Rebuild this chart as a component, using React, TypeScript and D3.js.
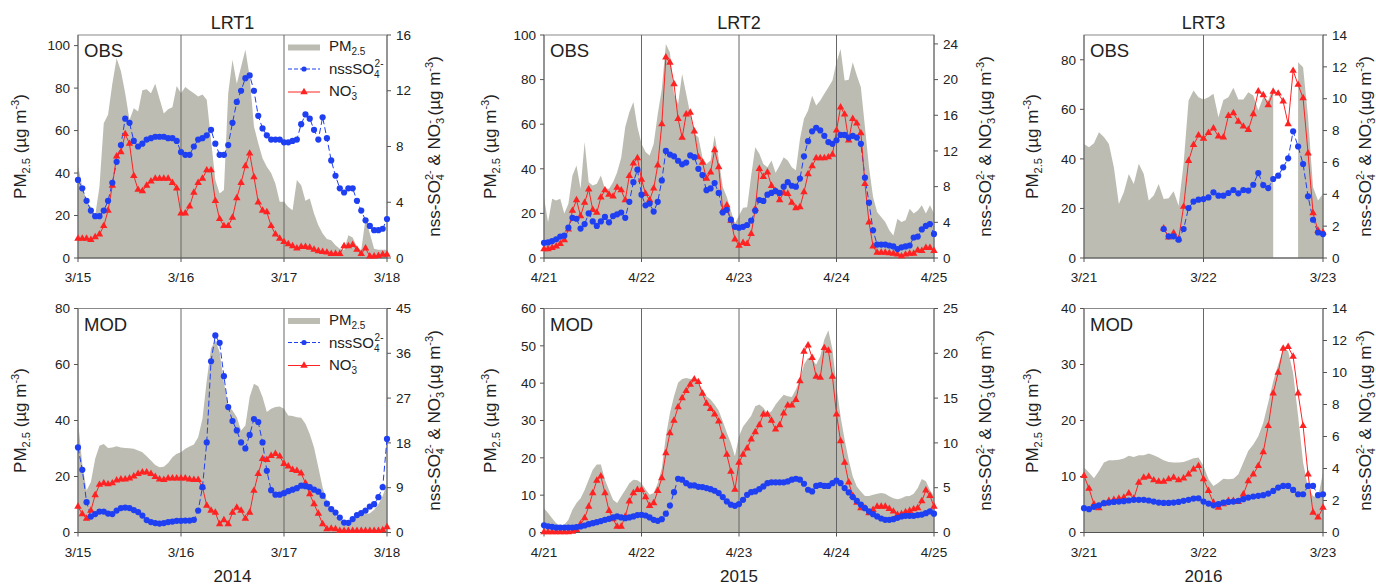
import React from "react";
import * as d3 from "d3";

// ---------------- DATA (hourly) ----------------
// LRT1 (2014, 3/15 - 3/18)
const lrt1Days = ["3/15", "3/16", "3/17", "3/18"];
const lrt1ObsPM = [43.5,33.5,27,24,20,33.5,63.5,67.4,82,94,88,77.6,65,70.5,69,79,79.5,77.6,82,75,68,70,71,81,77.6,80.5,79,77.6,76,77,74.5,55.6,36.7,30.4,32,77.6,93.4,82,90,98,85.5,62,54,47,43,40,35,26.5,26.5,24,22.5,36.7,34.3,27,28,21,15.4,11.5,9,8.3,6,4.4,3.6,10.7,9.6,5.2,3.6,18.6,11.5,4.4,3.9,3.9,3.9];
const lrt1ObsSO4 = [5.6,5.0,4.1,3.4,3.0,3.0,3.4,4.1,5.4,6.9,8.1,10.0,9.7,8.4,8.0,8.2,8.5,8.6,8.7,8.7,8.7,8.6,8.6,8.4,7.6,7.4,7.4,8.0,8.5,8.6,8.8,9.2,8.2,7.4,7.4,8.1,9.7,11.2,12.0,12.9,13.1,12.0,10.2,9.3,8.8,8.5,8.5,8.5,8.3,8.3,8.4,8.5,9.6,10.3,10.0,9.2,8.5,10.1,8.6,7.0,5.9,5.0,4.7,5.0,5.0,4.1,3.4,2.7,2.3,2.0,2.0,2.1,2.8];
const lrt1ObsNO3 = [1.4,1.4,1.4,1.3,1.5,1.7,2.3,3.4,5.2,7.3,7.6,8.9,8.2,5.9,4.9,4.8,5.2,5.5,5.7,5.7,5.7,5.7,5.4,5.0,3.2,3.2,3.7,4.7,5.4,5.7,6.3,6.3,4.1,2.8,2.3,2.3,2.9,4.3,5.4,6.6,7.5,5.8,4.0,3.4,3.3,2.3,1.7,1.4,1.15,1.0,0.85,0.7,0.8,0.8,0.75,0.6,0.5,0.45,0.4,0.3,0.3,0.3,0.85,0.85,0.95,0.6,0.3,0.7,0.12,0.12,0.15,0.25,0.25];
const lrt1ModPM = [40,24.5,15,18,26.3,31,31.6,30.2,30.4,30.8,30.4,30.2,30.1,29.9,29.3,28.7,27.2,25.7,24.1,23.3,23.5,24.8,26.9,28.1,28.7,29.9,30.7,31.4,34,40.6,54.3,65.7,68.7,64.5,53.7,45.4,43.6,41.2,36.4,38.2,48.4,53.1,52.2,48.4,43,44.2,44.8,45,44.2,41.8,41.6,41.2,41,38.8,35.2,30.4,23.3,16.1,11.3,7.8,6,4.4,3.9,4.2,5,5.6,6.2,6.6,6.9,8.1,10.1,13.1,17.3];
const lrt1ModSO4 = [17.1,12.6,6.1,3.2,3.7,4.2,4.2,3.8,3.7,4.4,4.9,5.0,4.9,4.5,4.1,3.4,2.5,2.1,1.9,1.8,1.9,2.1,2.2,2.35,2.35,2.4,2.4,2.55,4.4,9.1,18.1,34.4,39.6,38.1,31.4,25.2,22.4,20.5,18.1,16.9,19.6,22.8,22.2,18.1,12.4,8.5,7.6,7.6,7.9,8.3,8.6,8.9,9.4,9.3,9.1,8.6,8.2,7.4,5.8,4.7,4.0,3.0,2.0,1.95,2.7,3.5,3.9,4.4,5.2,5.7,7.1,9.1,18.8];
const lrt1ModNO3 = [5.2,3.7,2.8,4.4,7.5,9.6,9.9,9.7,9.9,10.5,10.7,10.7,10.9,11.3,11.8,12.1,12.1,11.8,11.2,10.7,10.6,10.9,10.9,10.9,10.9,10.9,10.7,10.6,10.6,9.1,5.4,4.4,4.0,1.7,2.5,1.7,4.0,5.0,4.4,2.8,4.0,8.4,11.8,14.8,14.6,15.4,15.8,15.3,13.8,13.3,12.6,12.4,11.9,9.9,7.7,5.7,3.8,1.7,0.7,0.8,0.7,0.35,0.35,0.35,0.35,0.35,0.35,0.35,0.35,0.35,0.35,0.5,1.1];

// LRT2 (2015, 4/21 - 4/25)
const lrt2Days = ["4/21", "4/22", "4/23", "4/24", "4/25"];
const lrt2ObsPM = [27,16,26.6,25.8,26.6,19.9,24.3,37,41.5,31,52,34,32.5,33.3,37,31,31,34,38.5,45,58.7,65.4,69.9,58.7,51.2,47.5,46,51.2,64.6,75.8,96,92.2,73.6,69.1,82.5,73.6,64.6,55.7,54.2,45.2,42.2,43.7,54.9,44.5,31.8,27.3,21.3,15.4,19.1,22.5,22.8,37,49.7,46.7,42.2,40.7,43.7,38.2,41.5,45.2,43.7,40.7,39.3,53.4,62.4,66.1,72.8,68.4,70.6,73.6,76.6,79.6,87.8,93.7,79.6,79.9,87.8,81.8,76.6,58.7,40.7,27.3,20.6,18.4,16.1,12.4,10.1,17.6,16.1,16.9,22.1,19.9,21.3,23.6,19.9,23.6,19.9];
const lrt2ObsSO4 = [1.7,1.75,1.9,2.1,2.4,2.5,3.4,4.5,4.4,3.3,3.8,5.0,4.1,3.6,4.1,4.6,4.0,4.7,4.9,5.1,4.5,6.3,8.5,9.9,7.1,5.9,6.1,5.2,6.3,8.7,12.0,11.6,11.4,10.9,10.5,10.7,11.5,11.3,10.0,9.3,7.6,7.8,8.4,7.3,5.1,5.4,4.3,3.5,3.4,3.5,3.7,4.2,5.3,6.5,6.4,7.1,7.3,7.5,7.3,8.0,8.5,8.1,8.0,8.9,11.4,13.1,14.2,14.6,14.3,13.7,13.0,12.8,13.2,13.8,13.8,13.5,13.7,13.5,12.8,9.0,6.2,3.1,1.5,1.5,1.5,1.4,1.3,1.0,1.2,1.3,1.4,2.3,2.4,3.2,3.6,3.8,2.7];
const lrt2ObsNO3 = [1.0,1.0,1.15,1.3,1.6,2.0,3.2,5.3,6.5,4.7,6.2,7.7,5.4,5.1,6.8,7.6,7.1,6.9,7.9,7.6,6.5,9.2,10.6,11.2,8.8,7.2,6.5,7.8,10.4,15.0,22.5,21.9,19.5,15.6,13.5,16.1,16.3,14.2,11.3,10.7,8.9,9.6,12.1,10.2,5.3,5.9,4.2,2.1,1.4,1.7,1.6,2.7,5.5,10.0,9.1,9.6,8.1,7.5,6.5,7.3,7.2,6.2,5.6,5.7,7.4,9.4,10.3,11.2,11.2,11.2,11.3,11.6,14.3,16.9,16.1,13.2,15.6,15.1,14.0,8.3,4.0,1.3,0.6,0.6,0.6,0.55,0.5,0.4,0.2,0.4,0.5,0.5,0.85,0.8,1.15,1.15,0.8];
const lrt2ModPM = [6.5,5.2,3.85,2.5,1.9,2.06,3.4,6.1,7.9,9.2,11.4,14.1,16.8,18.2,18.2,14.1,11.4,8.8,7.9,9.7,11.4,13.2,14.1,14,13.2,11.6,10.1,10.6,13.2,17.3,25.8,32,36.5,40.1,41.1,41.4,41.1,41.2,40.1,38.3,36.5,35.6,34.3,32.7,29.8,26.7,24,20.4,25.8,28.4,29.8,31.3,33.8,34.3,33.4,31.8,32.5,34.3,35.6,36.9,36.5,36.3,38.3,41,45,46.8,46.3,45,47.2,51.7,54.2,49,39.2,31.1,24.9,19.5,15,12.3,11,9.8,9.8,10.1,10.4,10.6,10.4,9.7,9.2,8.9,9.2,9.7,9.8,10.4,11.9,14.3,13.7,11.4,9.7];
const lrt2ModSO4 = [0.8,0.7,0.63,0.56,0.56,0.56,0.56,0.56,0.6,0.67,0.78,0.93,1.04,1.15,1.27,1.42,1.53,1.68,1.79,1.68,1.6,1.68,1.79,1.94,1.97,1.9,1.68,1.42,1.3,1.49,2.1,3.0,4.5,6.0,5.9,5.5,5.25,5.25,5.1,5.07,4.96,4.84,4.66,4.4,3.95,3.47,3.1,2.98,3.17,3.65,4.2,4.5,4.58,4.84,5.14,5.5,5.6,5.6,5.6,5.6,5.7,5.9,6.0,5.9,5.44,4.77,4.58,5.2,5.3,5.2,5.2,5.5,5.8,5.5,4.96,4.47,3.95,3.54,3.1,2.72,2.35,2.05,1.79,1.56,1.42,1.42,1.49,1.64,1.79,1.86,1.86,1.86,1.94,2.0,2.16,2.35,2.1];
const lrt2ModNO3 = [0.04,0.04,0.04,0.04,0.04,0.04,0.04,0.1,0.3,0.93,1.6,2.9,4.4,5.8,6.26,4.4,2.42,1.49,0.67,0.67,1.79,3.47,4.4,4.77,4.77,3.95,2.98,3.28,4.66,6.07,8.87,11.1,12.5,14.0,15.0,15.8,16.5,17.1,16.8,15.5,14.4,13.8,13.2,12.4,10.7,8.7,6.8,4.8,7.8,8.7,9.4,10.4,11.2,12.0,13.2,13.2,12.5,11.5,12.0,13.3,14.2,14.2,14.8,16.9,20.2,20.9,19.5,17.4,17.3,20.6,20.3,17.4,13.2,10.2,7.8,5.6,4.1,3.35,2.72,2.72,2.16,2.53,2.9,2.9,2.9,2.65,2.35,1.97,2.05,2.27,2.42,2.6,2.72,3.5,4.7,4.1,2.9];

// LRT3 (2016, 3/21 - 3/23)
const lrt3Days = ["3/21", "3/22", "3/23"];
const lrt3ObsPM = [46,44.7,46.3,50.8,48.8,46,36.6,21.8,26.5,33.9,29.9,38,33.9,23.2,25.2,29.9,23.8,24.1,26.9,21.1,38,63.6,67.6,64.9,64,64.9,66.3,56.8,63.8,64.9,68.7,64,64,66.9,65.6,59.5,64.9,63.6,69.2,null,null,null,null,79,77,56.8,28.6,23.2,25.9];
const lrt3ObsSO4 = [null,null,null,null,null,null,null,null,null,null,null,null,null,null,null,null,1.82,1.36,1.36,1.15,1.82,3.14,3.54,3.66,3.7,3.8,4.12,3.91,3.91,4.08,4.27,4.06,4.27,4.23,4.6,5.33,4.58,4.39,4.96,5.17,5.69,6.26,7.95,7.0,5.9,3.87,2.4,1.6,1.5];
const lrt3ObsNO3 = [null,null,null,null,null,null,null,null,null,null,null,null,null,null,null,null,1.86,1.3,1.57,1.19,3.22,6.1,7.1,7.7,7.5,7.85,8.14,7.64,7.57,8.93,9.1,8.56,8.26,8.05,9.04,10.46,10.23,9.6,10.44,10.33,9.83,8.41,11.76,10.88,10.04,6.57,2.82,1.72,1.61];
const lrt3ModPM = [11.6,10.7,9.7,11,12.5,12.9,12.9,13,13.2,13.7,13.5,13.8,13.8,14.1,13.8,13.4,12.9,12.6,12.5,12.5,12.6,12.9,13.25,13.4,11.9,9.5,8.3,8.9,9.6,9.5,9.6,10.4,12.5,14.6,15.7,17.2,19.6,23.2,27,30,32.7,32.4,28.5,20.8,12.5,8,6.5,6.2,10.7];
const lrt3ModSO4 = [1.52,1.46,1.6,1.7,1.83,1.87,1.91,1.93,1.96,2.0,2.04,2.04,2.04,2.0,1.93,1.87,1.85,1.85,1.87,1.91,1.98,2.04,2.12,2.14,1.93,1.81,1.7,1.77,1.87,1.91,1.93,1.98,2.08,2.18,2.25,2.29,2.33,2.43,2.6,2.81,2.91,2.91,2.66,2.39,2.39,2.91,2.91,2.33,2.39];
const lrt3ModNO3 = [3.54,2.75,1.77,1.52,1.81,1.98,2.04,2.12,2.18,2.45,2.12,3.12,3.43,3.5,3.27,3.18,3.18,3.33,3.43,3.27,3.39,3.64,3.95,4.16,3.33,2.6,1.87,1.56,1.77,1.98,1.98,1.91,2.39,3.22,3.64,4.16,5.03,6.66,8.7,10.0,11.5,11.6,11.0,8.7,6.66,3.64,1.25,0.94,1.56];

// tick values
const ticksL1Obs = [0, 20, 40, 60, 80, 100];
const ticksR1Obs = [0, 4, 8, 12, 16];
const ticksL1Mod = [0, 20, 40, 60, 80];
const ticksR1Mod = [0, 9, 18, 27, 36, 45];
const ticksL2Obs = [0, 20, 40, 60, 80, 100];
const ticksR2Obs = [0, 4, 8, 12, 16, 20, 24];
const ticksL2Mod = [0, 10, 20, 30, 40, 50, 60];
const ticksR2Mod = [0, 5, 10, 15, 20, 25];
const ticksL3Obs = [0, 20, 40, 60, 80];
const ticksR3Obs = [0, 2, 4, 6, 8, 10, 12, 14];
const ticksL3Mod = [0, 10, 20, 30, 40];
const ticksR3Mod = [0, 2, 4, 6, 8, 10, 12, 14];

const titles = ["LRT1", "LRT2", "LRT3"];
const years = ["2014", "2015", "2016"];

// ---------------- STYLE ----------------
const FONT = "Arial, 'Liberation Sans', Helvetica, sans-serif";
const GRAY = "#bdbcb2";
const BLUE = "#1f3ff2";
const RED = "#ff2222";
const TXT = "#222";

type Series = (number | null)[];

interface PanelProps {
  x0: number; x1: number; y0: number; y1: number;
  days: string[];
  leftMax: number; leftTicks: number[];
  rightMax: number; rightTicks: number[];
  pm: Series; so4: Series; no3: Series;
  tag: string; legend: boolean;
  leftLabelX: number; rightLabelX: number;
}

function LeftLabel({ x, yc }: { x: number; yc: number }) {
  return (
    <text transform={`translate(${x},${yc}) rotate(-90)`} textAnchor="middle" dy="0.35em" fontSize={17} fill={TXT}>
      PM<tspan fontSize={11} dy={4}>2.5</tspan>
      <tspan dy={-4}> (µg m</tspan>
      <tspan fontSize={11} dy={-7}>-3</tspan>
      <tspan dy={7}>)</tspan>
    </text>
  );
}

function RightLabel({ x, yc }: { x: number; yc: number }) {
  return (
    <text transform={`translate(${x},${yc}) rotate(-90)`} textAnchor="middle" dy="0.35em" fontSize={17} fill={TXT}>
      nss-SO<tspan fontSize={11} dy={4}>4</tspan>
      <tspan fontSize={11} dx={-6} dy={-11}>2-</tspan>
      <tspan dy={7}> &amp; NO</tspan>
      <tspan fontSize={11} dy={4}>3</tspan>
      <tspan fontSize={11} dx={-6} dy={-11}>-</tspan>
      <tspan dy={7}> (µg m</tspan>
      <tspan fontSize={11} dy={-7}>-3</tspan>
      <tspan dy={7}>)</tspan>
    </text>
  );
}

function Panel(p: PanelProps) {
  const hours = p.pm.length - 1;
  const x = d3.scaleLinear().domain([0, hours]).range([p.x0, p.x1]);
  const yl = d3.scaleLinear().domain([0, p.leftMax]).range([p.y1, p.y0]);
  const yr = d3.scaleLinear().domain([0, p.rightMax]).range([p.y1, p.y0]);

  const area = d3.area<number | null>()
    .defined((d) => d != null)
    .x((_, i) => x(i))
    .y0(p.y1)
    .y1((d) => yl(d as number));
  const line = d3.line<number | null>()
    .defined((d) => d != null)
    .x((_, i) => x(i))
    .y((d) => yr(d as number));
  const tri = d3.symbol().type(d3.symbolTriangle).size(24)() as string;

  const dayHours = p.days.map((_, i) => i * 24);
  const yc = (p.y0 + p.y1) / 2;

  return (
    <g>
      <path d={area(p.pm) as string} fill={GRAY} />
      <rect x={p.x0} y={p.y0} width={p.x1 - p.x0} height={p.y1 - p.y0} fill="none" stroke="#8a8a8a" strokeWidth={1} />
      {dayHours.slice(1, -1).map((h) => (
        <line key={h} x1={x(h)} x2={x(h)} y1={p.y0} y2={p.y1} stroke="#666" strokeWidth={1} />
      ))}
      <line x1={p.x0} x2={p.x0} y1={p.y0} y2={p.y1} stroke="#666" />
      <line x1={p.x1} x2={p.x1} y1={p.y0} y2={p.y1} stroke="#666" />
      <line x1={p.x0} x2={p.x1} y1={p.y1} y2={p.y1} stroke="#555" />
      {p.leftTicks.map((t) => (
        <g key={"l" + t}>
          <line x1={p.x0 - 4} x2={p.x0} y1={yl(t)} y2={yl(t)} stroke="#555" />
          <text x={p.x0 - 8} y={yl(t)} dy="0.35em" textAnchor="end" fontSize={13.5} fill={TXT}>{t}</text>
        </g>
      ))}
      {p.rightTicks.map((t) => (
        <g key={"r" + t}>
          <line x1={p.x1} x2={p.x1 + 4} y1={yr(t)} y2={yr(t)} stroke="#555" />
          <text x={p.x1 + 9} y={yr(t)} dy="0.35em" textAnchor="start" fontSize={13.5} fill={TXT}>{t}</text>
        </g>
      ))}
      {dayHours.map((h, i) => (
        <g key={"x" + h}>
          <line x1={x(h)} x2={x(h)} y1={p.y1} y2={p.y1 + 4} stroke="#555" />
          <text x={x(h)} y={p.y1 + 24} textAnchor="middle" fontSize={13.5} fill={TXT}>{p.days[i]}</text>
        </g>
      ))}
      <path d={line(p.so4) as string} fill="none" stroke={BLUE} strokeWidth={1} strokeDasharray="6,3" />
      <path d={line(p.no3) as string} fill="none" stroke={RED} strokeWidth={1} />
      {p.no3.map((d, i) => d == null ? null : (
        <path key={"t" + i} d={tri} transform={`translate(${x(i)},${yr(d)})`} fill={RED} />
      ))}
      {p.so4.map((d, i) => d == null ? null : (
        <circle key={"c" + i} cx={x(i)} cy={yr(d)} r={3.1} fill={BLUE} />
      ))}
      <text x={p.x0 + 6} y={p.y0 + 22} fontSize={18.5} fill={TXT}>{p.tag}</text>
      {p.legend && (
        <g>
          <rect x={p.x1 - 99} y={p.y0 + 9.5} width={32} height={6} fill={GRAY} />
          <text x={p.x1 - 58} y={p.y0 + 16} fontSize={15} fill={TXT}>PM<tspan fontSize={10} dy={4}>2.5</tspan></text>
          <line x1={p.x1 - 99} x2={p.x1 - 67} y1={p.y0 + 34} y2={p.y0 + 34} stroke={BLUE} strokeDasharray="4,2" />
          <circle cx={p.x1 - 83} cy={p.y0 + 34} r={2.6} fill={BLUE} />
          <text x={p.x1 - 58} y={p.y0 + 39} fontSize={15} fill={TXT}>nssSO<tspan fontSize={10} dy={4}>4</tspan><tspan fontSize={10} dx={-5} dy={-11}>2-</tspan></text>
          <line x1={p.x1 - 99} x2={p.x1 - 67} y1={p.y0 + 57} y2={p.y0 + 57} stroke={RED} />
          <path d={tri} transform={`translate(${p.x1 - 83},${p.y0 + 57})`} fill={RED} />
          <text x={p.x1 - 58} y={p.y0 + 61} fontSize={15} fill={TXT}>NO<tspan fontSize={10} dy={4}>3</tspan><tspan fontSize={10} dx={-5} dy={-11}>-</tspan></text>
        </g>
      )}
      <LeftLabel x={p.leftLabelX} yc={yc} />
      <RightLabel x={p.rightLabelX} yc={yc} />
    </g>
  );
}

const cols = [
  { x0: 78, x1: 387, days: lrt1Days, lx: 20, rx: 434 },
  { x0: 544, x1: 934, days: lrt2Days, lx: 490, rx: 985 },
  { x0: 1084, x1: 1323, days: lrt3Days, lx: 1032, rx: 1365 },
];
const OBS_Y = [35, 258];
const MOD_Y = [308.5, 532.5];

export default function App() {
  const obs = [
    { pm: lrt1ObsPM, so4: lrt1ObsSO4, no3: lrt1ObsNO3, lm: 105, lt: ticksL1Obs, rm: 16, rt: ticksR1Obs },
    { pm: lrt2ObsPM, so4: lrt2ObsSO4, no3: lrt2ObsNO3, lm: 100, lt: ticksL2Obs, rm: 25, rt: ticksR2Obs },
    { pm: lrt3ObsPM, so4: lrt3ObsSO4, no3: lrt3ObsNO3, lm: 90, lt: ticksL3Obs, rm: 14, rt: ticksR3Obs },
  ];
  const mod = [
    { pm: lrt1ModPM, so4: lrt1ModSO4, no3: lrt1ModNO3, lm: 80, lt: ticksL1Mod, rm: 45, rt: ticksR1Mod },
    { pm: lrt2ModPM, so4: lrt2ModSO4, no3: lrt2ModNO3, lm: 60, lt: ticksL2Mod, rm: 25, rt: ticksR2Mod },
    { pm: lrt3ModPM, so4: lrt3ModSO4, no3: lrt3ModNO3, lm: 40, lt: ticksL3Mod, rm: 14, rt: ticksR3Mod },
  ];
  return (
    <svg width={1376} height={585} style={{ position: "absolute", left: 0, top: 0, background: "#fff" }} fontFamily={FONT}>
      {cols.map((c, i) => (
        <g key={i}>
          <text x={(c.x0 + c.x1) / 2} y={29} textAnchor="middle" fontSize={18} fill={TXT}>{titles[i]}</text>
          <Panel x0={c.x0} x1={c.x1} y0={OBS_Y[0]} y1={OBS_Y[1]} days={c.days}
            leftMax={obs[i].lm} leftTicks={obs[i].lt} rightMax={obs[i].rm} rightTicks={obs[i].rt}
            pm={obs[i].pm} so4={obs[i].so4} no3={obs[i].no3} tag="OBS" legend={i === 0}
            leftLabelX={c.lx} rightLabelX={c.rx} />
          <Panel x0={c.x0} x1={c.x1} y0={MOD_Y[0]} y1={MOD_Y[1]} days={c.days}
            leftMax={mod[i].lm} leftTicks={mod[i].lt} rightMax={mod[i].rm} rightTicks={mod[i].rt}
            pm={mod[i].pm} so4={mod[i].so4} no3={mod[i].no3} tag="MOD" legend={i === 0}
            leftLabelX={c.lx} rightLabelX={c.rx} />
          <text x={(c.x0 + c.x1) / 2} y={582} textAnchor="middle" fontSize={17} fill={TXT}>{years[i]}</text>
        </g>
      ))}
    </svg>
  );
}
